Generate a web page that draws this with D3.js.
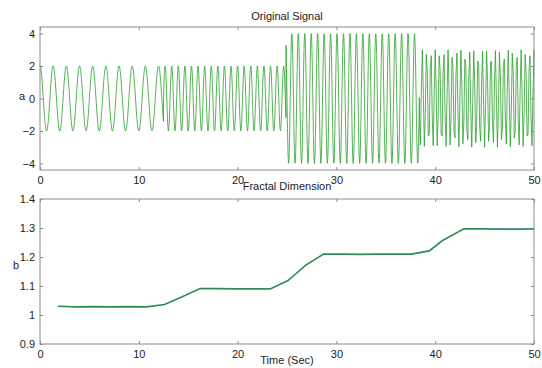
<!DOCTYPE html>
<html>
<head>
<meta charset="utf-8">
<script src="https://cdn.jsdelivr.net/npm/d3@7"></script>
<style>
  body { margin: 0; background: #fff; }
  svg { display: block; font-family: "Liberation Sans", Arial, sans-serif; }
  .axis path, .axis line { stroke: #8c8c8c; }
  .axis text { fill: #222; font-size: 11px; }
</style>
</head>
<body>
<div id="chart"></div>
<script>
// signal segments
const segStart = [0, 12.5, 24.9, 38.4];
const segEnd = [12.5, 24.9, 38.4, 50];
const segAmp = [2, 2, 4, 3];
const segFreq = [0.75, 1.5, 1.53, 2.3];
const segStep = [0.05, 0.025, 0.025, 0.1];

// fractal dimension estimates
const fdTime = [1.8, 3.6, 5.4, 7.2, 9.0, 10.8, 12.6, 14.4, 16.2, 18.0, 19.8, 21.6, 23.3, 25.1,
  26.9, 28.7, 30.6, 32.4, 34.2, 36.0, 37.6, 39.4, 40.7, 42.9, 45.0, 46.8, 48.6, 50.0];
const fdValue = [1.030, 1.028, 1.029, 1.028, 1.029, 1.028, 1.036, 1.063, 1.091, 1.091, 1.090, 1.090,
  1.090, 1.119, 1.172, 1.210, 1.210, 1.209, 1.210, 1.210, 1.210, 1.221, 1.256, 1.297, 1.297, 1.296, 1.296, 1.297];

const xTicks = [0, 10, 20, 30, 40, 50];
const aTicks = [-4, -2, 0, 2, 4];
const bTicks = [0.9, 1, 1.1, 1.2, 1.3, 1.4];

const width = 542, height = 368;
const left = 40, right = 534;

const svg = d3.select("#chart")
  .append("svg")
  .attr("width", width)
  .attr("height", height);

// build signal samples from the segments
const signal = [];
segStart.forEach((s, i) => {
  const n = Math.round((segEnd[i] - s) / segStep[i]);
  for (let k = 0; k <= n; k++) {
    const t = s + k * segStep[i];
    signal.push([t, segAmp[i] * Math.cos(2 * Math.PI * segFreq[i] * t)]);
  }
});

function panel(top, bottom, yDomain, yTicks, yFmt, title, titleY, ylab, ylabPos) {
  const x = d3.scaleLinear().domain([0, 50]).range([left, right]);
  const y = d3.scaleLinear().domain(yDomain).range([bottom, top]);

  svg.append("rect")
    .attr("x", left).attr("y", top)
    .attr("width", right - left).attr("height", bottom - top)
    .attr("fill", "none").attr("stroke", "#8c8c8c");

  svg.append("g").attr("class", "axis")
    .attr("transform", `translate(0,${bottom})`)
    .call(d3.axisBottom(x).tickValues(xTicks).tickSizeInner(-3).tickSizeOuter(0).tickPadding(6))
    .call(g => g.select(".domain").remove());
  svg.append("g").attr("class", "axis")
    .attr("transform", `translate(0,${top})`)
    .call(d3.axisTop(x).tickValues(xTicks).tickSizeInner(-3).tickSizeOuter(0).tickFormat(""))
    .call(g => g.select(".domain").remove());
  svg.append("g").attr("class", "axis")
    .attr("transform", `translate(${left},0)`)
    .call(d3.axisLeft(y).tickValues(yTicks).tickFormat(yFmt).tickSizeInner(-3).tickSizeOuter(0).tickPadding(5))
    .call(g => g.select(".domain").remove());
  svg.append("g").attr("class", "axis")
    .attr("transform", `translate(${right},0)`)
    .call(d3.axisRight(y).tickValues(yTicks).tickSizeInner(-3).tickSizeOuter(0).tickFormat(""))
    .call(g => g.select(".domain").remove());

  svg.append("text")
    .attr("x", (left + right) / 2).attr("y", titleY)
    .attr("text-anchor", "middle")
    .attr("font-size", 11).attr("fill", "#222")
    .text(title);
  svg.append("text")
    .attr("x", ylabPos[0]).attr("y", ylabPos[1])
    .attr("font-size", 11).attr("fill", "#222")
    .text(ylab);
  return { x, y };
}

const p1 = panel(27, 170, [-4.4, 4.4], aTicks, d3.format("d"), "Original Signal", 20, "a", [19, 100]);
svg.append("path")
  .datum(signal)
  .attr("fill", "none")
  .attr("stroke", "#2ca02c")
  .attr("stroke-width", 0.8)
  .attr("d", d3.line().x(d => p1.x(d[0])).y(d => p1.y(d[1])));

const p2 = panel(199, 344, [0.9, 1.4], bTicks, d => d === 1 ? "1" : d3.format(".1f")(d),
  "Fractal Dimension", 190, "b", [13, 269]);
svg.append("path")
  .datum(fdTime.map((t, i) => [t, fdValue[i]]))
  .attr("fill", "none")
  .attr("stroke", "#2e8b57")
  .attr("stroke-width", 1.6)
  .attr("d", d3.line().x(d => p2.x(d[0])).y(d => p2.y(d[1])));

svg.append("text")
  .attr("x", (left + right) / 2).attr("y", 364)
  .attr("text-anchor", "middle")
  .attr("font-size", 11).attr("fill", "#222")
  .text("Time (Sec)");
</script>
</body>
</html>
